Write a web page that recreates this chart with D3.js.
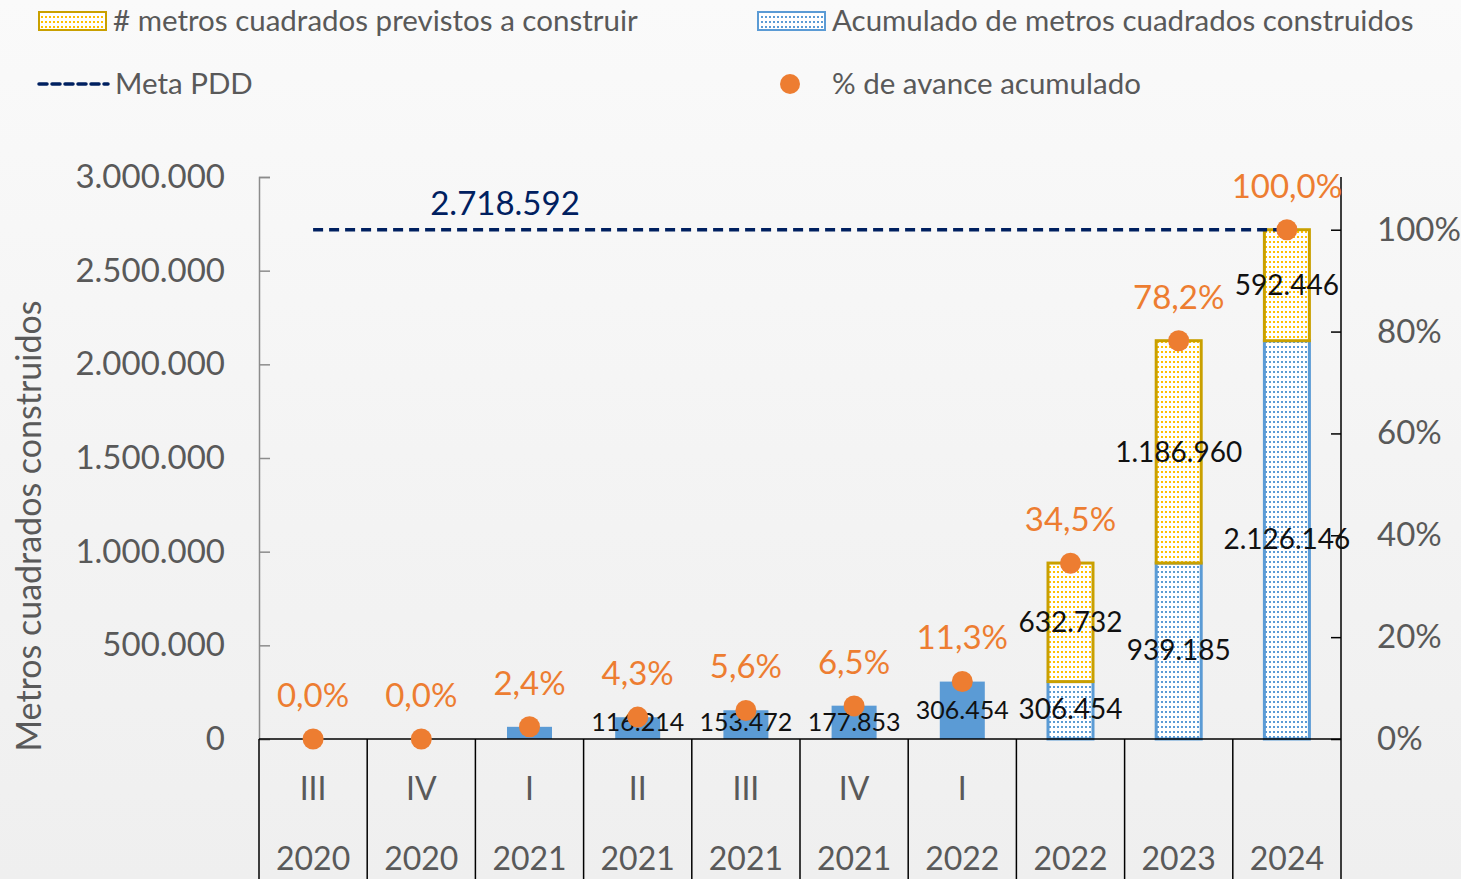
<!DOCTYPE html>
<html>
<head>
<meta charset="utf-8">
<script src="https://cdn.jsdelivr.net/npm/d3@7"></script>
<style>
  body { margin: 0; background: #f5f5f5; }
  svg { display: block; }
</style>
</head>
<body>
<svg width="1461" height="879"></svg>
<script>
// data
var quarters = ['III', 'IV', 'I', 'II', 'III', 'IV', 'I', '', '', ''];
var years = ['2020', '2020', '2021', '2021', '2021', '2021', '2022', '2022', '2023', '2024'];
var built = [0, 0, 65000, 116214, 153472, 177853, 306454, 306454, 939185, 2126146];
var planned = [0, 0, 0, 0, 0, 0, 0, 632732, 1186960, 592446];
var pct = [0.0, 0.0, 2.4, 4.3, 5.6, 6.5, 11.3, 34.5, 78.2, 100.0];
var showBuiltLabel = [false, false, false, true, true, true, true, true, true, true];
var hatched = [false, false, false, false, false, false, false, true, true, true];
var meta = 2718592;
var leftTicks = [0, 500000, 1000000, 1500000, 2000000, 2500000, 3000000];
var rightTicks = [0, 20, 40, 60, 80, 100];

var font = 'Lato, "Open Sans", sans-serif';
var grey = '#595959';
var orange = '#ed7d31';
var blue = '#5b9bd5';
var navy = '#002060';

var svg = d3.select('svg');
var defs = svg.append('defs');

// background wash
var grad = defs.append('linearGradient').attr('id', 'bg').attr('x1', 0).attr('y1', 0).attr('x2', 0).attr('y2', 1);
grad.append('stop').attr('offset', '0%').attr('stop-color', '#fafafa');
grad.append('stop').attr('offset', '60%').attr('stop-color', '#f3f3f3');
grad.append('stop').attr('offset', '100%').attr('stop-color', '#efefef');
svg.append('rect').attr('width', 1461).attr('height', 879).attr('fill', 'url(#bg)');

function dotPattern(id, color) {
    var p = defs.append('pattern').attr('id', id)
        .attr('patternUnits', 'userSpaceOnUse').attr('width', 4).attr('height', 5);
    p.append('rect').attr('width', 4).attr('height', 5).attr('fill', '#fff');
    p.append('rect').attr('x', 1).attr('y', 1).attr('width', 2).attr('height', 2).attr('fill', color);
}
dotPattern('dotsYellow', '#ffc000');
dotPattern('dotsBlue', blue);

var x0 = 259, x1 = 1341, yTop = 177, yBase = 739;

var idx = d3.range(quarters.length);
var x = d3.scaleBand().domain(idx).range([x0, x1]).paddingInner(0).paddingOuter(0);
var y = d3.scaleLinear().domain([0, 3000000]).range([yBase, yTop]);
var yPct = d3.scaleLinear().domain([0, 100]).range([yBase, y(meta)]);
var barW = 45;
var cx = function(i) { return x(i) + x.bandwidth() / 2; };
var fmt = function(v) { return d3.format(',')(v).replace(/,/g, '.'); };

// left axis
var gl = svg.append('g').attr('transform', 'translate(' + x0 + ',0)')
    .call(d3.axisLeft(y).tickValues(leftTicks).tickSize(-11).tickPadding(34).tickFormat(fmt));
gl.select('.domain').attr('stroke', '#8c8c8c').attr('stroke-width', 1.5);
gl.selectAll('.tick line').attr('stroke', '#8c8c8c').attr('stroke-width', 1.5);
gl.selectAll('.tick text').attr('font-family', font).attr('font-size', 33).attr('fill', grey);

// right axis
var gr = svg.append('g').attr('transform', 'translate(' + x1 + ',0)')
    .call(d3.axisRight(yPct).tickValues(rightTicks).tickSize(-10).tickPadding(36).tickFormat(function(d) { return d + '%'; }));
gr.select('.domain').attr('d', 'M0,' + yTop + 'V' + yBase).attr('stroke', '#000').attr('stroke-width', 1.5);
gr.selectAll('.tick line').attr('stroke', '#000').attr('stroke-width', 1.5);
gr.selectAll('.tick text').attr('font-family', font).attr('font-size', 33).attr('fill', grey);

// axis title
svg.append('text')
    .attr('transform', 'translate(41,' + 526 + ') rotate(-90)')
    .attr('text-anchor', 'middle')
    .attr('font-family', font).attr('font-size', 34).attr('fill', grey)
    .text('Metros cuadrados construidos');

// built bars
svg.append('g').selectAll('rect').data(idx).join('rect')
    .attr('x', function(i) { return cx(i) - barW / 2; })
    .attr('y', function(i) { return y(built[i]); })
    .attr('width', barW)
    .attr('height', function(i) { return yBase - y(built[i]); })
    .attr('fill', function(i) { return hatched[i] ? 'url(#dotsBlue)' : blue; })
    .attr('stroke', function(i) { return hatched[i] ? blue : 'none'; })
    .attr('stroke-width', 3);

// planned bars
var withPlan = idx.filter(function(i) { return planned[i] > 0; });
svg.append('g').selectAll('rect').data(withPlan).join('rect')
    .attr('x', function(i) { return cx(i) - barW / 2; })
    .attr('y', function(i) { return y(built[i] + planned[i]); })
    .attr('width', barW)
    .attr('height', function(i) { return y(built[i]) - y(built[i] + planned[i]); })
    .attr('fill', 'url(#dotsYellow)')
    .attr('stroke', '#c9a000')
    .attr('stroke-width', 3);

// x axis baseline and category boxes
svg.append('line').attr('x1', x0).attr('x2', x1).attr('y1', yBase).attr('y2', yBase)
    .attr('stroke', '#000').attr('stroke-width', 1.5);
svg.append('g').selectAll('line').data(d3.range(quarters.length + 1)).join('line')
    .attr('x1', function(i) { return i < quarters.length ? x(i) : x1; })
    .attr('x2', function(i) { return i < quarters.length ? x(i) : x1; })
    .attr('y1', yBase).attr('y2', 879)
    .attr('stroke', '#000').attr('stroke-width', 1.5);
svg.append('g').selectAll('text').data(quarters).join('text')
    .attr('x', function(d, i) { return cx(i); }).attr('y', 800)
    .attr('text-anchor', 'middle')
    .attr('font-family', font).attr('font-size', 32).attr('fill', grey)
    .text(function(d) { return d; });
svg.append('g').selectAll('text').data(years).join('text')
    .attr('x', function(d, i) { return cx(i); }).attr('y', 870)
    .attr('text-anchor', 'middle')
    .attr('font-family', font).attr('font-size', 32).attr('fill', grey)
    .text(function(d) { return d; });

// meta line
svg.append('line')
    .attr('x1', cx(0)).attr('x2', cx(quarters.length - 1))
    .attr('y1', y(meta)).attr('y2', y(meta))
    .attr('stroke', navy).attr('stroke-width', 3.5).attr('stroke-dasharray', '10,6');
svg.append('text')
    .attr('x', 505).attr('y', y(meta) - 15)
    .attr('text-anchor', 'middle')
    .attr('font-family', font).attr('font-size', 33).attr('fill', navy)
    .text(fmt(meta));

// built value labels (smaller on the solid bars)
var withBuiltLabel = idx.filter(function(i) { return showBuiltLabel[i]; });
svg.append('g').selectAll('text').data(withBuiltLabel).join('text')
    .attr('x', function(i) { return cx(i); })
    .attr('y', function(i) { return Math.min((y(built[i]) + yBase) / 2, 722) + 9; })
    .attr('text-anchor', 'middle')
    .attr('font-family', font)
    .attr('font-size', function(i) { return hatched[i] ? 28 : 25; })
    .attr('fill', '#111')
    .text(function(i) { return fmt(built[i]); });

// planned value labels
svg.append('g').selectAll('text').data(withPlan).join('text')
    .attr('x', function(i) { return cx(i); })
    .attr('y', function(i) { return (y(built[i] + planned[i]) + y(built[i])) / 2 + 10; })
    .attr('text-anchor', 'middle')
    .attr('font-family', font).attr('font-size', 28).attr('fill', '#111')
    .text(function(i) { return fmt(planned[i]); });

// percent dots and labels
svg.append('g').selectAll('circle').data(pct).join('circle')
    .attr('cx', function(d, i) { return cx(i); })
    .attr('cy', function(d) { return yPct(d); })
    .attr('r', 10.5)
    .attr('fill', orange);
svg.append('g').selectAll('text').data(pct).join('text')
    .attr('x', function(d, i) { return cx(i); })
    .attr('y', function(d) { return yPct(d) - 32; })
    .attr('text-anchor', 'middle')
    .attr('font-family', font).attr('font-size', 33).attr('fill', orange)
    .text(function(d) { return d.toFixed(1).replace('.', ',') + '%'; });

// legend
var lg = svg.append('g').attr('font-family', font).attr('font-size', 29.5).attr('fill', grey);
lg.append('rect').attr('x', 39).attr('y', 12).attr('width', 67).attr('height', 18)
    .attr('fill', 'url(#dotsYellow)').attr('stroke', '#c9a000').attr('stroke-width', 2);
lg.append('text').attr('x', 113).attr('y', 31).text('# metros cuadrados previstos a construir');
lg.append('rect').attr('x', 758).attr('y', 12).attr('width', 67).attr('height', 18)
    .attr('fill', 'url(#dotsBlue)').attr('stroke', blue).attr('stroke-width', 2);
lg.append('text').attr('x', 832).attr('y', 31).text('Acumulado de metros cuadrados construidos');
lg.append('line').attr('x1', 39).attr('x2', 108).attr('y1', 84).attr('y2', 84)
    .attr('stroke', navy).attr('stroke-width', 3.5).attr('stroke-dasharray', '8,5')
    .attr('stroke-linecap', 'round');
lg.append('text').attr('x', 115).attr('y', 94).text('Meta PDD');
lg.append('circle').attr('cx', 790).attr('cy', 84).attr('r', 10).attr('fill', orange);
lg.append('text').attr('x', 832).attr('y', 94).text('% de avance acumulado');
</script>
</body>
</html>
